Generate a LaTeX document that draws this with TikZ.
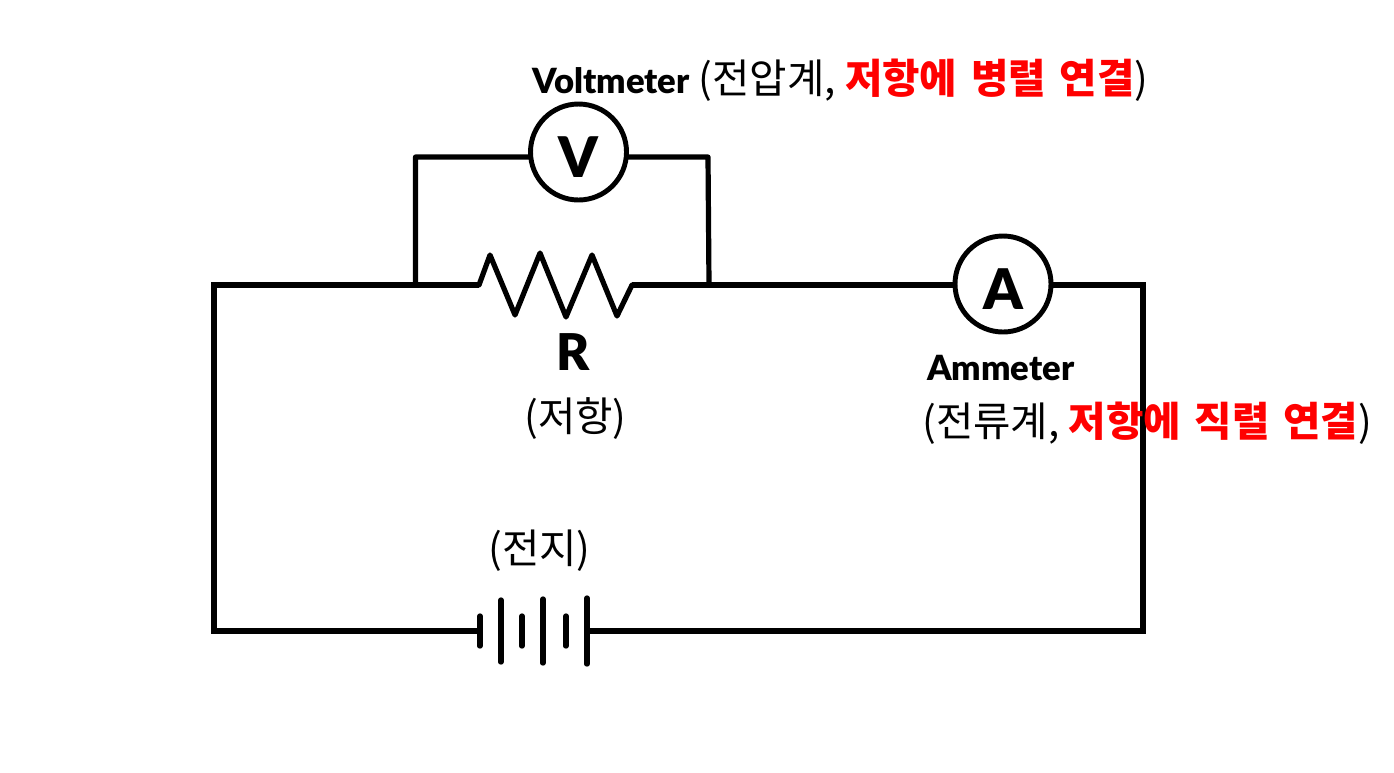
\documentclass[tikz,border=0pt]{standalone}
\usepackage{fontspec}
\setmainfont{Noto Sans CJK KR}
\newfontfamily\latinbold{Lato Black}
\usetikzlibrary{positioning}
\tikzset{
  wire/.style={line width=4.4pt, line join=miter},
  thinwire/.style={line width=3.9pt, line join=round, line cap=round},
  meter/.style={
    circle, draw=black, fill=white, line width=3.7pt,
    minimum size=72pt, inner sep=0pt
  },
  metertext/.style={font=\latinbold\fontsize{42pt}{42pt}\selectfont, inner sep=0pt, yshift=-3.5pt},
  plate/.style={line width=4pt, line cap=round},
  namelabel/.style={font=\latinbold\fontsize{26pt}{30pt}\selectfont, inner sep=0pt, anchor=base west},
  krlabel/.style={font=\fontsize{30.5pt}{36pt}\selectfont, inner sep=0pt, anchor=base west}
}
\newcommand{\hot}[1]{\textcolor{red}{\textbf{\spaceskip=0.34em #1}}}

\begin{document}
\begin{tikzpicture}[x=0.75pt, y=-0.75pt]
  \useasboundingbox (0,0) rectangle (1394,772);
  % corners and junctions
  \coordinate (nw) at (214,285);
  \coordinate (ne) at (1143,285);
  \coordinate (sw) at (214,631);
  \coordinate (se) at (1143,631);
  \coordinate (res-in) at (479,285);
  \coordinate (res-out) at (632,285);
  \coordinate (tap-l) at (415.5,285);
  \coordinate (tap-r) at (709,285);
  \coordinate (top-l) at (415.5,157);
  \coordinate (top-r) at (708,157);
  \coordinate (bat-l) at (480,631);
  \coordinate (bat-r) at (587,631);
  % outer loop
  \draw[wire] (bat-l) -- (sw) -- (nw) -- (res-in);
  \draw[wire] (res-out) -- (ne) -- (se) -- (bat-r);
  % resistor
  \draw[thinwire] (res-in) -- ++(11,-30) -- ++(25,60) -- ++(25,-62) -- ++(26,64)
    -- ++(26,-62) -- ++(25,61) -- (res-out);
  % voltmeter branch
  \draw[thinwire, line cap=butt] (tap-l) -- (top-l) -- (top-r) -- (tap-r);
  % meters
  \node[meter, label={[metertext]center:V}] (volt) at (578.5,152) {};
  \node[meter, label={[metertext]center:A}] (amm) at (1003,284) {};
  % battery
  \foreach \px/\ph in {480/15, 501/31, 522/15, 543/32, 566/15, 587/33}
    \draw[plate] (\px,631-\ph) -- (\px,631+\ph);
  % labels
  \node[krlabel] (volt-label) at (532,93) {{\latinbold\fontsize{26pt}{30pt}\selectfont Voltmeter} (전압계, \hot{저항에 병렬 연결})};
  \node[namelabel, font=\latinbold\fontsize{38pt}{38pt}\selectfont] (res-name) at (556,370) {R};
  \node[krlabel] (res-label) at (524,431) {(저항)};
  \node[namelabel] (amm-name) at (927,380) {Ammeter};
  \node[krlabel] (amm-label) at (922,436) {(전류계, \hot{저항에 직렬 연결})};
  \node[krlabel] (bat-label) at (488,563) {(전지)};
\end{tikzpicture}
\end{document}
